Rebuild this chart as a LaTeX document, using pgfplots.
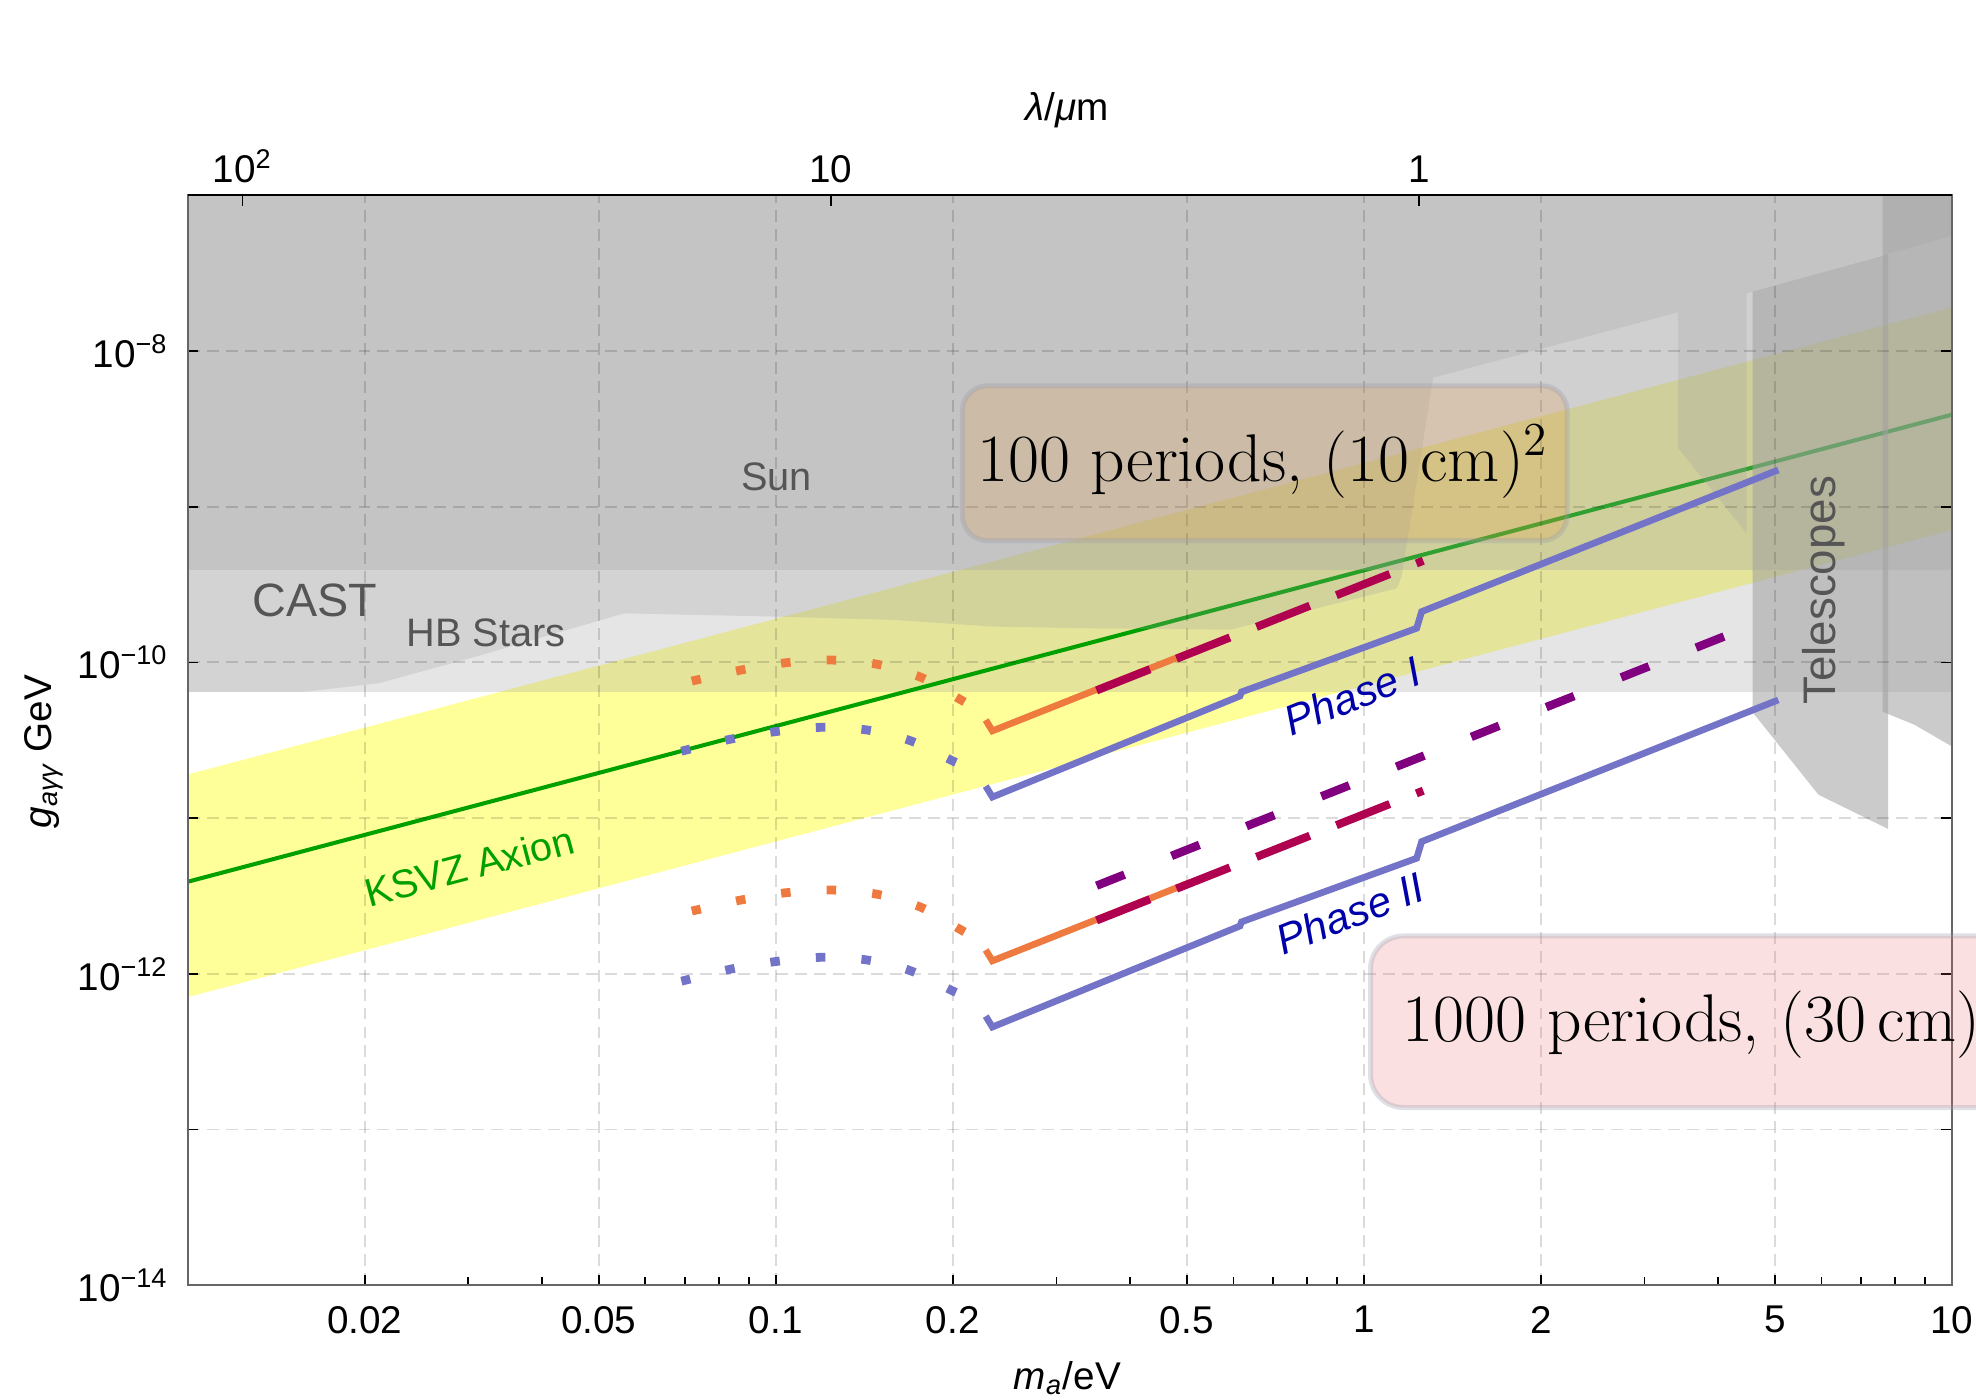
\documentclass[border=0pt]{standalone}
\usepackage{fontspec}
\usepackage{pgfplots}
\pgfplotsset{compat=1.18}
\newfontfamily\arial{Liberation Sans}
\definecolor{bandyellow}{RGB}{255,255,153}
\definecolor{ksvz}{RGB}{0,160,0}
\definecolor{lay}{RGB}{160,160,160}
\definecolor{bluel}{RGB}{115,115,200}
\definecolor{orangel}{RGB}{238,122,64}
\definecolor{crim}{RGB}{176,0,80}
\definecolor{purp}{RGB}{128,0,128}
\definecolor{phasec}{RGB}{0,0,170}
\definecolor{lbl}{RGB}{85,85,85}
\definecolor{boxa}{RGB}{240,150,50}
\definecolor{boxb}{RGB}{230,100,100}
\definecolor{boxline}{RGB}{150,155,175}
\begin{document}
\begin{tikzpicture}
\begin{axis}[
  at={(0,0)}, anchor=south west, scale only axis,
  width=17.643cm, height=10.899cm,
  xmode=log, ymode=log, xmin=0.01, xmax=10, ymin=1e-14, ymax=1e-7,
  set layers=standard,
  xtick={0.02,0.05,0.1,0.2,0.5,1,2,5,10},
  xticklabels={0.02,0.05,0.1,0.2,0.5,1,2,5,10},
  minor xtick={0.03,0.04,0.06,0.07,0.08,0.09,0.3,0.4,0.6,0.7,0.8,0.9,3,4,6,7,8,9},
  ytick={1e-14,1e-13,1e-12,1e-11,1e-10,1e-9,1e-8},
  yticklabels={10\textsuperscript{−14},,10\textsuperscript{−12},,10\textsuperscript{−10},,10\textsuperscript{−8}},
  yminorticks=false,
  xtick pos=left, ytick pos=both,
  tick align=inside,
  major tick length=3pt, minor tick length=2.4pt,
  tick style={black, line width=0.5pt},
  axis line style={black!60, line width=0.6pt},
  grid=major,
  grid style={black, opacity=0.14, line width=0.55pt, dash pattern=on 3.4pt off 2pt},
  ticklabel style={font=\arial\fontsize{11}{13}\selectfont, text=black},
  xticklabel style={yshift=-2.5pt},
  yticklabel style={xshift=-2pt},
]
% KSVZ band
\addplot[on layer=axis background, fill=bandyellow, draw=none] coordinates {(0.01,1.905e-11) (10,1.905e-8) (10,7.079e-10) (0.01,7.079e-13)} -- cycle;
% HB stars
\addplot[on layer=axis background, fill=lay, fill opacity=0.28, draw=none] coordinates {(0.01,6.457e-11) (10,6.457e-11) (10,1e-7) (0.01,1e-7)} -- cycle;
% KSVZ line
\addplot[on layer=axis background, ksvz, line width=1.15pt] coordinates {(0.01,3.9e-12) (10,3.9e-9)};
% CAST
\addplot[on layer=axis background, fill=lay, fill opacity=0.25, draw=none] coordinates {
(0.01,6.457e-11) (0.01567,6.457e-11) (0.02113,7.345e-11) (0.03090,1.089e-10) (0.05521,2.065e-10)
(0.1005,1.968e-10) (0.1585,1.875e-10) (0.2344,1.698e-10) (0.3289,1.660e-10) (0.5929,1.622e-10)
(1.137,2.985e-10) (1.159,3.548e-10) (1.312,6.745e-9) (3.424,1.774e-8) (3.424,2.371e-9)
(4.477,6.745e-10) (4.477,2.344e-8) (10,5.495e-8) (10,1e-7) (0.01,1e-7)} -- cycle;
% Sun
\addplot[on layer=axis background, fill=lay, fill opacity=0.3, draw=none] coordinates {(0.01,3.9e-10) (10,3.9e-10) (10,1e-7) (0.01,1e-7)} -- cycle;
% Telescopes
\addplot[on layer=axis background, fill=lay, fill opacity=0.55, draw=none] coordinates {(4.581,2.404e-8) (7.792,4.188e-8) (7.792,8.511e-12) (5.929,1.413e-11) (4.581,4.786e-11)} -- cycle;
\addplot[on layer=axis background, fill=lay, fill opacity=0.55, draw=none] coordinates {(7.621,1e-7) (10,1e-7) (10,2.884e-11) (8.630,3.981e-11) (7.621,4.819e-11)} -- cycle;
% dotted curves
\addplot[smooth, orangel, line width=2.5pt, dash pattern=on 2.7pt off 10.3pt] coordinates {(0.07211,7.603e-11) (0.07335,7.709e-11) (0.08730,8.933e-11) (0.1043,9.954e-11) (0.1246,1.035e-10) (0.1488,9.727e-11) (0.1766,8.017e-11) (0.2065,5.741e-11) (0.2097,5.556e-11)};
\addplot[smooth, bluel, line width=2.5pt, dash pattern=on 2.7pt off 10.3pt] coordinates {(0.06920,2.692e-11) (0.07039,2.735e-11) (0.08356,3.206e-11) (0.09966,3.589e-11) (0.1193,3.828e-11) (0.1429,3.681e-11) (0.1694,3.141e-11) (0.1995,2.339e-11) (0.2027,2.275e-11)};
\addplot[smooth, orangel, line width=2.5pt, dash pattern=on 2.7pt off 10.3pt] coordinates {(0.07211,2.535e-12) (0.07335,2.570e-12) (0.08730,2.978e-12) (0.1043,3.319e-12) (0.1246,3.451e-12) (0.1488,3.243e-12) (0.1766,2.673e-12) (0.2065,1.914e-12) (0.2097,1.852e-12)};
\addplot[smooth, bluel, line width=2.5pt, dash pattern=on 2.7pt off 10.3pt] coordinates {(0.06920,8.975e-13) (0.07039,9.118e-13) (0.08356,1.069e-12) (0.09966,1.197e-12) (0.1193,1.276e-12) (0.1429,1.227e-12) (0.1694,1.047e-12) (0.1995,7.798e-13) (0.2027,7.585e-13)};
% solid lines
\addplot[orangel, line width=1.9pt] coordinates {(0.2275,4.266e-11) (0.2335,3.631e-11) (0.5058,1.156e-10)};
\addplot[orangel, line width=1.9pt] coordinates {(0.2275,1.422e-12) (0.2335,1.211e-12) (0.5058,3.854e-12)};
\addplot[bluel, line width=1.9pt] coordinates {(0.2275,1.603e-11) (0.2335,1.365e-11) (0.6156,6.08e-11) (0.6194,6.46e-11) (1.2294,1.656e-10) (1.2537,2.118e-10) (5.066,1.722e-9)};
\addplot[bluel, line width=1.9pt] coordinates {(0.2275,5.344e-13) (0.2335,4.551e-13) (0.6156,2.027e-12) (0.6194,2.154e-12) (1.2294,5.521e-12) (1.2537,7.061e-12) (5.066,5.741e-11)};
% dashed lines
\addplot[crim, line width=2.3pt, dash pattern=on 16.33pt off 8.14pt] coordinates {(0.3512,6.607e-11) (1.2618,4.498e-10)};
\addplot[crim, line width=2.3pt, dash pattern=on 16.33pt off 8.14pt] coordinates {(0.3512,2.202e-12) (1.2618,1.4996e-11)};
\addplot[purp, line width=2.4pt, dash pattern=on 8.54pt off 14.4pt] coordinates {(0.3512,3.68e-12) (4.117,1.477e-10)};
\end{axis}
\begin{axis}[
  at={(0,0)}, anchor=south west, scale only axis,
  width=17.643cm, height=10.899cm,
  xmode=log, xmin=0.01, xmax=10, ymin=0, ymax=1,
  axis x line*=top, axis y line=none,
  xtick={0.012398,0.12398,1.2398},
  xticklabels={10\textsuperscript{2},10,1},
  xminorticks=false,
  tick align=inside, major tick length=3pt,
  tick style={black, line width=0.5pt},
  axis line style={-, black, line width=0.6pt},
  ticklabel style={font=\arial\fontsize{11}{13}\selectfont, text=black},
]
\addplot[draw=none] coordinates {(1,0.5)};
\end{axis}
\begin{scope}[x=0.01cm, y=-0.01cm, shift={(-1.877cm,12.852cm)}]
\node[anchor=base west, text=lbl, font=\arial\fontsize{13.3}{15}\selectfont, inner sep=0pt] at (252,616.7) {CAST};
\node[anchor=base west, text=lbl, font=\arial\fontsize{11.3}{13}\selectfont, inner sep=0pt] at (406,646.7) {HB Stars};
\node[anchor=base west, text=lbl, font=\arial\fontsize{11.3}{13}\selectfont, inner sep=0pt] at (741,491) {Sun};
\node[anchor=base, rotate=90, text=lbl, font=\arial\fontsize{13}{15}\selectfont, inner sep=0pt] at (1836.7,590.7) {Telescopes};
\node[anchor=base west, rotate=14.85, text=ksvz, font=\arial\fontsize{11.3}{13}\selectfont, inner sep=0pt] at (369,908) {KSVZ Axion};
\node[anchor=base west, rotate=21.7, text=phasec, font=\arial\itshape\fontsize{12}{14}\selectfont, inner sep=0pt] at (1291.5,737) {Phase I};
\node[anchor=base west, rotate=21.7, text=phasec, font=\arial\itshape\fontsize{12}{14}\selectfont, inner sep=0pt] at (1283.8,956.7) {Phase II};
\draw[boxline, draw opacity=0.3, line width=1.42pt, fill=boxa, fill opacity=0.2, rounded corners=0.25cm] (963,386) rectangle (1568,541);
\node[anchor=base west, inner sep=0pt, font=\fontsize{19.2}{22}\selectfont] at (977,482) {100 periods, (10\,cm)\textsuperscript{2}};
\draw[boxline, draw opacity=0.3, line width=1.42pt, fill=boxb, fill opacity=0.2, rounded corners=0.33cm] (1371.3,936.5) rectangle (2080,1108.2);
\node[anchor=base west, inner sep=0pt, font=\fontsize{19.2}{22}\selectfont] at (1403,1042) {1000 periods, (30\,cm)\textsuperscript{2}};
\node[anchor=base, inner sep=0pt, font=\arial\fontsize{11}{13}\selectfont] at (1068,1390) {\itshape m\textsubscript{a}\upshape/eV};
\node[anchor=base, inner sep=0pt, font=\arial\fontsize{11}{13}\selectfont] at (1068,121) {\itshape λ\upshape/\itshape μ\upshape m};
\node[anchor=base, rotate=90, inner sep=0pt, font=\arial\fontsize{11}{13}\selectfont] at (52,752) {\itshape g\textsubscript{aγγ}\upshape\ GeV};
\end{scope}
\pgfresetboundingbox
\path[use as bounding box] (-1.877cm,-1.148cm) rectangle (17.883cm,12.852cm);
\end{tikzpicture}
\end{document}
